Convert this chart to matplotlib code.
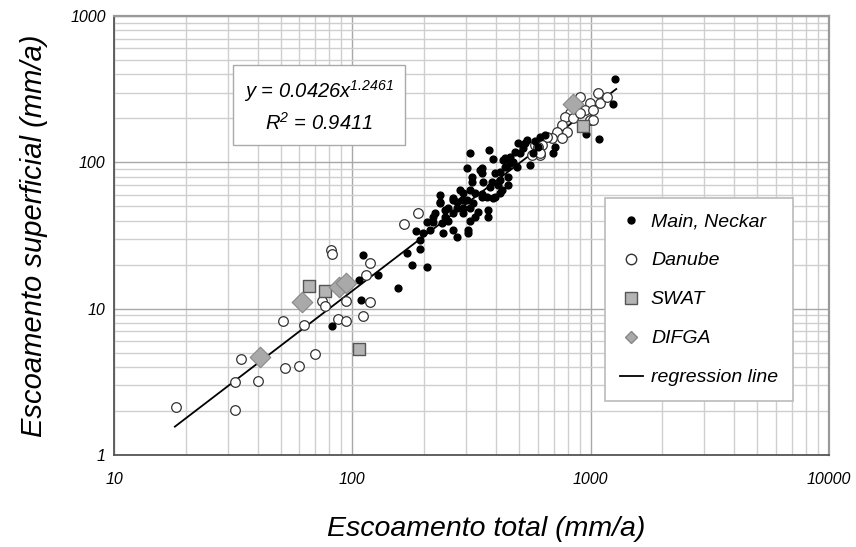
import matplotlib
matplotlib.use("Agg")
import numpy as np
import matplotlib.pyplot as plt
from matplotlib.lines import Line2D

plt.rcParams['font.family'] = ['Liberation Sans', 'DejaVu Sans']
plt.rcParams['font.style'] = 'italic'
plt.rcParams['mathtext.fontset'] = 'custom'
plt.rcParams['mathtext.rm'] = 'Liberation Sans:italic'
plt.rcParams['mathtext.it'] = 'Liberation Sans:italic'

# Main, Neckar (black dots)
main_x = [82, 107, 109, 111, 128, 156, 170, 178, 185, 192, 206,
          1265, 1240, 1084, 957, 695, 710, 614, 600, 541, 496, 573, 505, 459,
          557, 491, 459, 437, 437, 417, 450, 417, 397, 375, 312, 389, 429,
          350, 350, 318, 318, 353, 386, 408, 425, 450, 417, 379, 368, 389,
          350, 327, 312, 292, 303, 289, 275, 265, 321, 312, 292, 337, 275,
          292, 371, 371, 327, 312, 265, 252, 233, 233, 222, 245, 252, 238,
          218, 206, 212, 198, 192, 240, 265, 275, 306, 306, 303, 343, 446,
          283, 233, 265, 245, 218, 350, 395, 530, 585, 520, 470, 640, 480]
main_y = [7.6, 15.7, 11.5, 23.3, 17, 13.8, 23.9, 19.9, 34, 25.5, 19.3,
          371, 251, 145, 156, 116, 127, 149, 127, 142, 136, 116, 116, 109,
          96, 93, 99, 107, 93, 86, 79, 76, 84, 121, 116, 105, 104,
          92, 85, 79, 73.5, 73.5, 73.5, 70, 65, 70, 62, 68, 58, 57,
          58, 62, 65, 62, 55, 55, 54, 57, 53, 49, 49, 46, 49,
          45, 47, 42, 42, 40, 45, 49, 60, 53, 45, 42, 40, 38.5,
          39, 39, 34.5, 33, 29.5, 33, 34.5, 31, 34.5, 33, 92, 89, 93,
          65, 54, 55, 47, 42, 61, 58, 135, 140, 125, 100, 153, 118]

# Danube (open circles)
danube_x = [18.2, 32.2, 32.2, 34.1, 40.2, 51.2, 52.2, 59.7, 62.7, 69.7, 74.6,
            76.5, 81.5, 82, 87.1, 94.1, 94, 111, 118.6, 118.6, 114, 165, 189,
            903, 995, 1075, 1095, 948, 1024, 995, 820, 781, 844, 903, 759, 723,
            797, 759, 689, 656, 626, 585, 614, 568, 1024, 1171, 600, 610]
danube_y = [2.13, 2.03, 3.16, 4.53, 3.2, 8.24, 3.93, 4.06, 7.74, 4.9, 11.3,
            10.4, 25.2, 23.7, 8.5, 8.2, 11.3, 8.9, 11.1, 20.5, 17, 37.9, 45.1,
            280, 255, 298, 255, 228, 228, 195, 218, 204, 201, 218, 180, 162,
            162, 147, 147, 149, 132, 132, 112, 112, 195, 280, 127, 116]

# SWAT (grey squares)
swat_x = [65.8, 76.7, 107, 930]
swat_y = [14.3, 13.2, 5.3, 178]

# DIFGA (grey diamonds)
difga_x = [41, 61.5, 88, 94, 844]
difga_y = [4.67, 11.1, 14.1, 15, 250]

# regression y = a * x^b
reg_a = 0.0426
reg_b = 1.2461
reg_xmin, reg_xmax = 18, 1280

fig = plt.figure(figsize=(8.56, 5.47), dpi=100)
ax = fig.add_axes([0.1332, 0.1682, 0.8353, 0.8025])
ax.set_xscale('log')
ax.set_yscale('log')
ax.set_xlim(10, 10000)
ax.set_ylim(1, 1000)

ax.grid(which='major', color='#a8a8a8', linewidth=1.0)
ax.grid(which='minor', color='#cfcfcf', linewidth=1.0)
ax.set_axisbelow(True)
ax.tick_params(which='both', length=0)
ax.tick_params(axis='x', pad=12, labelsize=11.5)
ax.tick_params(axis='y', pad=6, labelsize=11.5)
ax.set_xticks([10, 100, 1000, 10000])
ax.set_xticklabels(['10', '100', '1000', '10000'])
ax.set_yticks([1, 10, 100, 1000])
ax.set_yticklabels(['1', '10', '100', '1000'])

for side in ['left', 'bottom']:
    ax.spines[side].set_color('#555555')
    ax.spines[side].set_linewidth(1.3)
for side in ['top', 'right']:
    ax.spines[side].set_color('#9a9a9a')
    ax.spines[side].set_linewidth(1.6)

xr = np.array([reg_xmin, reg_xmax])
ax.plot(xr, reg_a * xr ** reg_b, color='black', linewidth=1.3, zorder=3)

ax.scatter(danube_x, danube_y, s=48, facecolor='white', edgecolor='#333333',
           linewidth=0.9, zorder=4)
ax.scatter(main_x, main_y, s=24, color='black', zorder=5)
ax.scatter(swat_x, swat_y, s=85, marker='s', facecolor='#b4b4b4',
           edgecolor='#555555', linewidth=1.0, zorder=6)
ax.scatter(difga_x, difga_y, s=110, marker='D', facecolor='#a9a9a9',
           edgecolor='#888888', linewidth=0.8, zorder=6)

ax.text(0.287, 0.795, 'y = 0.0426x$^{1.2461}$\nR$^{2}$ = 0.9411',
        transform=ax.transAxes, ha='center', va='center', multialignment='center',
        fontsize=14.5, linespacing=1.45,
        bbox=dict(boxstyle='square,pad=0.55', facecolor='white', edgecolor='#aaaaaa'))

handles = [
    Line2D([], [], marker='o', color='black', linestyle='none', markersize=5),
    Line2D([], [], marker='o', markerfacecolor='white', markeredgecolor='#333333',
           linestyle='none', markersize=7.5),
    Line2D([], [], marker='s', markerfacecolor='#b4b4b4', markeredgecolor='#555555',
           linestyle='none', markersize=8.5),
    Line2D([], [], marker='D', markerfacecolor='#a9a9a9', markeredgecolor='#888888',
           linestyle='none', markersize=6.5),
    Line2D([], [], color='black', linewidth=1.3),
]
labels = ['Main, Neckar', 'Danube', 'SWAT', 'DIFGA', 'regression line']
leg = ax.legend(handles, labels, loc='upper left', bbox_to_anchor=(0.687, 0.585),
                fontsize=14, frameon=True, fancybox=False, framealpha=1,
                edgecolor='#bbbbbb', labelspacing=1.1, handlelength=1.2,
                handletextpad=0.4, borderpad=0.75, borderaxespad=0)
leg.get_frame().set_linewidth(1.2)

ax.set_xlabel('Escoamento total (mm/a)', fontsize=20.5, labelpad=15)
ax.xaxis.set_label_coords(0.52, -0.14)
ax.set_ylabel('Escoamento superficial (mm/a)', fontsize=21, labelpad=16)

fig.savefig('out.png', dpi=100)
